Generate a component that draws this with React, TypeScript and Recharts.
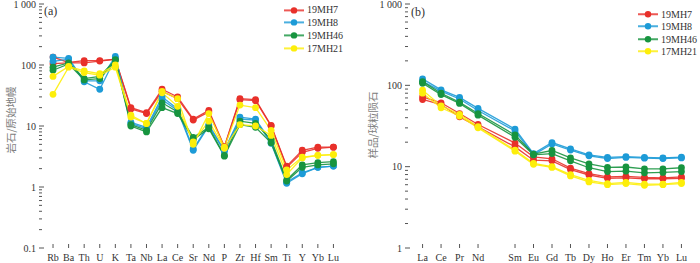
import { LineChart, Line, XAxis, YAxis, Legend, ReferenceArea } from "recharts";

// ---- (a) primitive-mantle normalised spider diagram ----
const spiderElements = ["Rb", "Ba", "Th", "U", "K", "Ta", "Nb", "La", "Ce", "Sr", "Nd", "P", "Zr", "Hf", "Sm", "Ti", "Y", "Yb", "Lu"];
const spiderMH7a = [135, 110, 118, 118, 125, 20, 16.5, 40, 30, 13, 18, 4.6, 28, 27, 10.2, 2.2, 4.0, 4.5, 4.5];
const spiderMH7b = [105, 108, 108, 116, 124, 19, 16, 37, 28, 12.5, 17, 4.5, 27, 26, 10, 2.1, 3.7, 4.3, 4.5];
const spiderMH8a = [135, 128, 55, 55, 138, 11.5, 9.5, 30, 19, 4.2, 10.5, 4.0, 14, 13, 5.5, 1.2, 1.7, 2.1, 2.2];
const spiderMH8b = [115, 125, 53, 40, 130, 11, 9, 27, 18, 4.0, 10, 3.8, 13, 12.5, 5.2, 1.15, 1.65, 2.1, 2.2];
const spiderMH46a = [92, 108, 60, 65, 122, 10.5, 8.5, 24, 17, 6.5, 9.5, 3.3, 12, 11, 6, 1.3, 2.3, 2.5, 2.6];
const spiderMH46b = [82, 104, 57, 60, 118, 10, 8, 20, 16, 6, 9, 3.2, 10.5, 9.5, 5.3, 1.25, 2.1, 2.3, 2.4];
const spiderMH21a = [65, 95, 80, 72, 100, 15, 11, 37, 28, 5, 16, 4.5, 22, 20, 8.5, 1.9, 3.1, 3.3, 3.4];
const spiderMH21b = [33, 92, 75, 68, 92, 14, 11, 35, 21, 5.5, 12, 4.3, 10.5, 10, 7, 1.6, 3.0, 3.3, 3.4];
const spiderMajorTicks = [0.1, 1, 10, 100, 1000];

// ---- (b) chondrite-normalised REE pattern (Pm left empty) ----
const reeElements = ["La", "Ce", "Pr", "Nd", "Pm", "Sm", "Eu", "Gd", "Tb", "Dy", "Ho", "Er", "Tm", "Yb", "Lu"];
const reeMH7a = [72, 61, 45, 33, null, 19.5, 13.2, 12.5, 9.6, 8.2, 7.5, 7.6, 7.4, 7.3, 7.5];
const reeMH7b = [67, 58, 41, 31, null, 17.5, 12, 11.8, 9.2, 7.9, 7.2, 7.3, 7.1, 7.1, 7.2];
const reeMH8a = [120, 88, 71, 52, null, 29, 14.5, 19.8, 16.5, 14, 13, 13.3, 13, 12.8, 13.1];
const reeMH8b = [112, 85, 68, 49, null, 27.5, 14, 19, 16, 13.6, 12.6, 13, 12.7, 12.6, 12.8];
const reeMH46a = [111, 80, 62, 45, null, 24.5, 14.3, 15.8, 12.8, 10.8, 9.8, 9.9, 9.4, 9.4, 9.7];
const reeMH46b = [106, 77, 60, 43, null, 23, 14, 14.5, 11.8, 9.7, 8.7, 8.8, 8.4, 8.5, 8.7];
const reeMH21a = [87, 56, 44, 31, null, 16, 11, 10, 8, 6.8, 6.2, 6.4, 6.1, 6.1, 6.4];
const reeMH21b = [80, 53, 42, 30, null, 15.5, 10.7, 9.8, 7.7, 6.5, 6.0, 6.2, 5.9, 6.0, 6.2];
const reeMajorTicks = [1, 10, 100, 1000];

const groups = [
  { name: "19MH7", color: "#e8302a" },
  { name: "19MH8", color: "#1d9bd7" },
  { name: "19MH46", color: "#17943f" },
  { name: "17MH21", color: "#fdee0a" },
];

const spiderSeries = [
  { key: "s7a", group: 0, values: spiderMH7a },
  { key: "s7b", group: 0, values: spiderMH7b },
  { key: "s8a", group: 1, values: spiderMH8a },
  { key: "s8b", group: 1, values: spiderMH8b },
  { key: "s46a", group: 2, values: spiderMH46a },
  { key: "s46b", group: 2, values: spiderMH46b },
  { key: "s21a", group: 3, values: spiderMH21a },
  { key: "s21b", group: 3, values: spiderMH21b },
];

const reeSeries = [
  { key: "r7a", group: 0, values: reeMH7a },
  { key: "r7b", group: 0, values: reeMH7b },
  { key: "r8a", group: 1, values: reeMH8a },
  { key: "r8b", group: 1, values: reeMH8b },
  { key: "r46a", group: 2, values: reeMH46a },
  { key: "r46b", group: 2, values: reeMH46b },
  { key: "r21a", group: 3, values: reeMH21a },
  { key: "r21b", group: 3, values: reeMH21b },
];

type Series = { key: string; group: number; values: (number | null)[] };

function buildRows(names: string[], series: Series[]) {
  return names.map((name, i) => {
    const row: Record<string, string | number | null> = { idx: i + 1, name };
    series.forEach((s) => (row[s.key] = s.values[i]));
    return row;
  });
}

// major decades + minor 2..9 ticks
function logTicks(majors: number[]) {
  const out: number[] = [];
  majors.forEach((d, i) => {
    out.push(d);
    if (i < majors.length - 1) for (let m = 2; m <= 9; m++) out.push(+(d * m).toPrecision(3));
  });
  return out;
}

const isDecade = (v: number) => Math.abs(Math.log10(v) - Math.round(Math.log10(v))) < 1e-9;
const fmtTick = (v: number) => (v >= 1000 ? "1 000" : String(v));

const FONT = "'Liberation Serif', 'Times New Roman', serif";
const CJK = "'Noto Sans CJK SC', sans-serif";
const AXIS = "#555";

function LogTick(props: any) {
  const { x, y, payload } = props;
  const v = payload.value as number;
  const major = isDecade(v);
  return (
    <g>
      <line x1={x} x2={x + (major ? 5 : 3)} y1={y} y2={y} stroke={AXIS} strokeWidth={1} />
      {major && (
        <text x={x - 3} y={y} textAnchor="end" dominantBaseline="central" fontSize={10} fontFamily={FONT} fill="#333">
          {fmtTick(v)}
        </text>
      )}
    </g>
  );
}

function CatTick(props: any) {
  const { x, y, payload, names } = props;
  const name = names[payload.value - 1];
  if (!name || name === "Pm") return null;
  return (
    <g>
      <line x1={x} x2={x} y1={y} y2={y - 4} stroke={AXIS} strokeWidth={1} />
      <text x={x} y={y + 13} textAnchor="middle" fontSize={10} fontFamily={FONT} fill="#333">
        {name}
      </text>
    </g>
  );
}

function GroupLegend({ rowH }: { rowH: number }) {
  return (
    <div style={{ fontFamily: FONT, fontSize: 10, color: "#333" }}>
      {groups.map((g) => (
        <div key={g.name} style={{ display: "flex", alignItems: "center", height: rowH }}>
          <svg width={22} height={rowH}>
            <line x1={0} x2={20} y1={rowH / 2} y2={rowH / 2} stroke={g.color} strokeWidth={2} strokeOpacity={0.8} />
            <circle cx={10} cy={rowH / 2} r={3.2} fill={g.color} />
          </svg>
          <span style={{ marginLeft: 1, fontFamily: FONT }}>{g.name}</span>
        </div>
      ))}
    </div>
  );
}

function Panel({
  names, series, majors, yAxisWidth, domainX, legendPos, rowH,
}: {
  names: string[]; series: Series[]; majors: number[]; yAxisWidth: number;
  domainX: [number, number]; legendPos: { left: number; top: number }; rowH: number;
}) {
  const rows = buildRows(names, series);
  const xTicks = names.map((_, i) => i + 1).filter((i) => names[i - 1] !== "Pm");
  return (
    <LineChart width={350} height={263} data={rows} margin={{ top: 4, right: 1, bottom: 0, left: 0 }}>
      <XAxis
        dataKey="idx"
        type="number"
        domain={domainX}
        ticks={xTicks}
        interval={0}
        height={15}
        tickSize={0}
        tickMargin={0}
        tickLine={false}
        axisLine={false}
        tick={<CatTick names={names} />}
      />
      <YAxis
        scale="log"
        domain={[majors[0], majors[majors.length - 1]]}
        ticks={logTicks(majors)}
        interval={0}
        allowDataOverflow
        width={yAxisWidth}
        tickSize={0}
        tickMargin={0}
        tickLine={false}
        axisLine={false}
        tick={<LogTick />}
      />
      <ReferenceArea fill="none" stroke={AXIS} strokeWidth={1.2} ifOverflow="visible" />
      {series.map((s) => (
        <Line
          key={s.key}
          dataKey={s.key}
          stroke={groups[s.group].color}
          strokeWidth={1.3}
          strokeOpacity={0.9}
          dot={{ r: 3.4, fill: groups[s.group].color, stroke: "none" }}
          connectNulls
          isAnimationActive={false}
        />
      ))}
      <Legend
        layout="vertical"
        align="center"
        verticalAlign="middle"
        wrapperStyle={{ position: "absolute", left: legendPos.left, top: legendPos.top, width: "auto" }}
        content={() => <GroupLegend rowH={rowH} />}
      />
    </LineChart>
  );
}

export default function App() {
  return (
    <div style={{ position: "absolute", left: 0, top: 0, width: 700, height: 263, background: "#fff", fontFamily: FONT }}>
      <div style={{ position: "absolute", left: 0, top: 0 }}>
        <Panel
          names={spiderElements}
          series={spiderSeries}
          majors={spiderMajorTicks}
          yAxisWidth={39}
          domainX={[0.1, 20]}
          legendPos={{ left: 284, top: 3.5 }}
          rowH={12.8}
        />
      </div>
      <div style={{ position: "absolute", left: 350, top: 0 }}>
        <Panel
          names={reeElements}
          series={reeSeries}
          majors={reeMajorTicks}
          yAxisWidth={55}
          domainX={[0.05, 15.95]}
          legendPos={{ left: 288, top: 7.8 }}
          rowH={12.5}
        />
      </div>
      <div style={{ position: "absolute", left: 44, top: 4, fontSize: 12, color: "#333" }}>(a)</div>
      <div style={{ position: "absolute", left: 411, top: 5, fontSize: 12, color: "#333" }}>(b)</div>
      <div
        style={{
          position: "absolute", left: 10, top: 120, transform: "translate(-50%, -50%) rotate(-90deg)",
          whiteSpace: "nowrap", fontSize: 10.5, color: "#808080", fontFamily: CJK,
        }}
      >
        岩石/原始地幔
      </div>
      <div
        style={{
          position: "absolute", left: 372, top: 125, transform: "translate(-50%, -50%) rotate(-90deg)",
          whiteSpace: "nowrap", fontSize: 10.5, color: "#808080", fontFamily: CJK,
        }}
      >
        样品/球粒陨石
      </div>
    </div>
  );
}
